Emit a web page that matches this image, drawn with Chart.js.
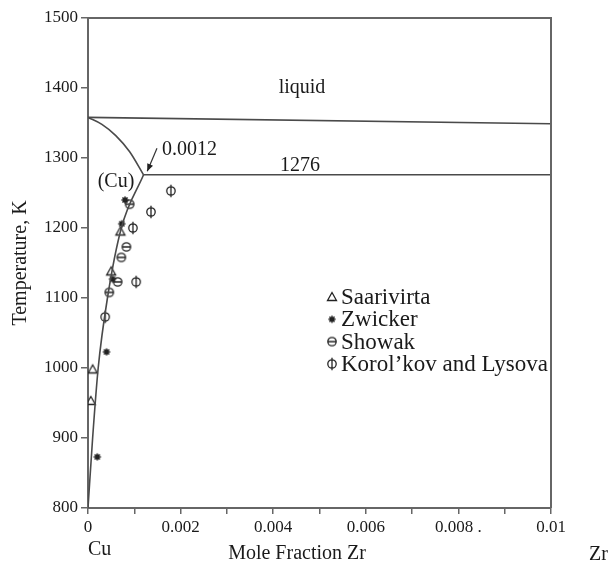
<!DOCTYPE html>
<html>
<head>
<meta charset="utf-8">
<script src="https://cdn.jsdelivr.net/npm/chart.js@4.4.0/dist/chart.umd.min.js"></script>
<style>
  html, body { margin: 0; padding: 0; background: #fff; }
</style>
</head>
<body>
<canvas id="phase" width="612" height="564"></canvas>
<script>
// phase boundaries, x = mole fraction Zr, T = kelvin
const liquidusX = [0, 0.01];
const liquidusT = [1358, 1349];
const solidusX = [0, 0.0003, 0.0006, 0.0009, 0.0012];
const solidusT = [1358, 1348, 1332, 1309, 1276];
const eutecticX = [0.0012, 0.01];
const eutecticT = [1276, 1276];
const solvusX = [0, 0.0001, 0.00022, 0.00042, 0.00072, 0.0012];
const solvusT = [800, 900, 1000, 1100, 1200, 1276];

// measured points
const seriesNames = ['Saarivirta', 'Zwicker', 'Showak', 'Korol\u2019kov and Lysova'];
const saariX = [0.00006, 0.0001, 0.0005, 0.0007];
const saariT = [953, 998, 1138, 1195];
const zwickX = [0.0002, 0.0004, 0.00053, 0.00073, 0.0008];
const zwickT = [873, 1023, 1127, 1206, 1240];
const showX = [0.00046, 0.00064, 0.00072, 0.00083, 0.0009];
const showT = [1108, 1123, 1158, 1173, 1234];
const korX = [0.00037, 0.00104, 0.00097, 0.00136, 0.00179];
const korT = [1073, 1123, 1200, 1223, 1253];

const xTickLabels = ['0', '', '0.002', '', '0.004', '', '0.006', '', '0.008 .', '', '0.01'];

const serif = '"Liberation Serif", "DejaVu Serif", serif';
const lineCol = '#4a4a4a';
const txtCol = '#1a1a1a';

function pts(xs, ts) { return xs.map((x, i) => ({ x: x, y: ts[i] })); }

// little marker images
function marker(kind) {
  const c = document.createElement('canvas');
  c.width = 14; c.height = 14;
  const g = c.getContext('2d');
  g.translate(7, 7);
  g.strokeStyle = '#222';
  g.fillStyle = '#222';
  g.lineWidth = 1.3;
  g.beginPath();
  if (kind == 'tri') {
    g.moveTo(0, -4.5); g.lineTo(4.5, 3.5); g.lineTo(-4.5, 3.5); g.closePath();
    g.stroke();
  } else if (kind == 'star') {
    g.lineWidth = 1.6;
    for (let a = 0; a < 4; a++) {
      const r = a * Math.PI / 4;
      g.moveTo(-3.6 * Math.cos(r), -3.6 * Math.sin(r));
      g.lineTo(3.6 * Math.cos(r), 3.6 * Math.sin(r));
    }
    g.stroke();
    g.beginPath(); g.arc(0, 0, 1.6, 0, Math.PI * 2); g.fill();
  } else if (kind == 'hcirc') {
    g.arc(0, 0, 4.2, 0, Math.PI * 2);
    g.moveTo(-4.2, 0); g.lineTo(4.2, 0);
    g.stroke();
  } else {
    g.arc(0, 0, 4.2, 0, Math.PI * 2);
    g.moveTo(0, -6.3); g.lineTo(0, 6.3);
    g.stroke();
  }
  return c;
}
const markers = [marker('tri'), marker('star'), marker('hcirc'), marker('vcirc')];

function curve(xs, ts, tension) {
  return {
    data: pts(xs, ts), showLine: true, pointRadius: 0,
    borderColor: lineCol, borderWidth: 1.6, tension: tension || 0,
    cubicInterpolationMode: tension ? 'monotone' : 'default'
  };
}
function points(xs, ts, i) {
  return {
    label: seriesNames[i], data: pts(xs, ts), showLine: false,
    pointStyle: markers[i], pointRadius: 5
  };
}

const decor = {
  id: 'decor',
  afterDraw(chart) {
    const ctx = chart.ctx, a = chart.chartArea;
    const sx = chart.scales.x, sy = chart.scales.y;
    ctx.save();
    // top and right frame
    ctx.strokeStyle = '#666';
    ctx.lineWidth = 2;
    ctx.beginPath();
    ctx.moveTo(a.left, a.top); ctx.lineTo(a.right, a.top); ctx.lineTo(a.right, a.bottom);
    ctx.stroke();

    ctx.fillStyle = txtCol;
    ctx.font = '20px ' + serif;
    ctx.textBaseline = 'alphabetic';
    ctx.textAlign = 'center';
    ctx.fillText('liquid', 302, 93);
    ctx.fillText('1276', 300, 171);
    ctx.fillText('(Cu)', 116, 187);
    ctx.textAlign = 'left';
    ctx.fillText('0.0012', 162, 155);

    // arrow to the solubility limit
    const x0 = sx.getPixelForValue(0.00149), y0 = sy.getPixelForValue(1314);
    const x1 = sx.getPixelForValue(0.00128), y1 = sy.getPixelForValue(1281);
    ctx.strokeStyle = '#333';
    ctx.lineWidth = 1.2;
    ctx.beginPath(); ctx.moveTo(x0, y0); ctx.lineTo(x1, y1); ctx.stroke();
    const ang = Math.atan2(y1 - y0, x1 - x0);
    ctx.beginPath();
    ctx.moveTo(x1, y1);
    ctx.lineTo(x1 - 8 * Math.cos(ang - 0.4), y1 - 8 * Math.sin(ang - 0.4));
    ctx.lineTo(x1 - 8 * Math.cos(ang + 0.4), y1 - 8 * Math.sin(ang + 0.4));
    ctx.closePath();
    ctx.fillStyle = '#222';
    ctx.fill();

    // axis end labels and x title
    ctx.fillStyle = txtCol;
    ctx.font = '20px ' + serif;
    ctx.textAlign = 'left';
    ctx.fillText('Cu', 88, 555);
    ctx.fillText('Zr', 589, 560);
    ctx.textAlign = 'center';
    ctx.fillText('Mole Fraction Zr', 297, 559);

    // legend
    seriesNames.forEach((n, i) => {
      const y = 297 + i * 22.3;
      ctx.drawImage(markers[i], 332 - 7, y - 7);
      ctx.textAlign = 'left';
      ctx.textBaseline = 'middle';
      ctx.font = '23px ' + serif;
      ctx.fillText(n, 341, y + 1);
    });
    ctx.restore();
  }
};

new Chart(document.getElementById('phase'), {
  type: 'scatter',
  data: {
    datasets: [
      curve(liquidusX, liquidusT),
      curve(solidusX, solidusT, 0.4),
      curve(eutecticX, eutecticT),
      curve(solvusX, solvusT, 0.4),
      points(saariX, saariT, 0),
      points(zwickX, zwickT, 1),
      points(showX, showT, 2),
      points(korX, korT, 3)
    ]
  },
  options: {
    responsive: false,
    animation: false,
    layout: { padding: { left: 0, right: 61, top: 18, bottom: 0 } },
    plugins: { legend: { display: false }, tooltip: { enabled: false } },
    scales: {
      x: {
        type: 'linear', min: 0, max: 0.01,
        afterFit(s) { s.height = 56; },
        grid: { drawOnChartArea: false, drawTicks: true, tickLength: 6, color: '#666', lineWidth: 1.5 },
        border: { display: true, color: '#666', width: 2 },
        ticks: {
          stepSize: 0.001, autoSkip: false, maxRotation: 0, padding: 3,
          color: txtCol, font: { family: serif, size: 17 },
          callback: (v, i) => xTickLabels[i]
        }
      },
      y: {
        type: 'linear', min: 800, max: 1500,
        afterFit(s) { s.width = 88; },
        grid: { drawOnChartArea: false, drawTicks: true, tickLength: 7, color: '#666', lineWidth: 1.5 },
        border: { display: true, color: '#666', width: 2 },
        ticks: {
          stepSize: 100, padding: 3, color: txtCol,
          font: { family: serif, size: 17 },
          callback: v => String(v)
        },
        title: {
          display: true, text: 'Temperature, K', color: txtCol,
          font: { family: serif, size: 20 }, padding: { top: 9, bottom: 0 }
        }
      }
    }
  },
  plugins: [decor]
});
</script>
</body>
</html>
